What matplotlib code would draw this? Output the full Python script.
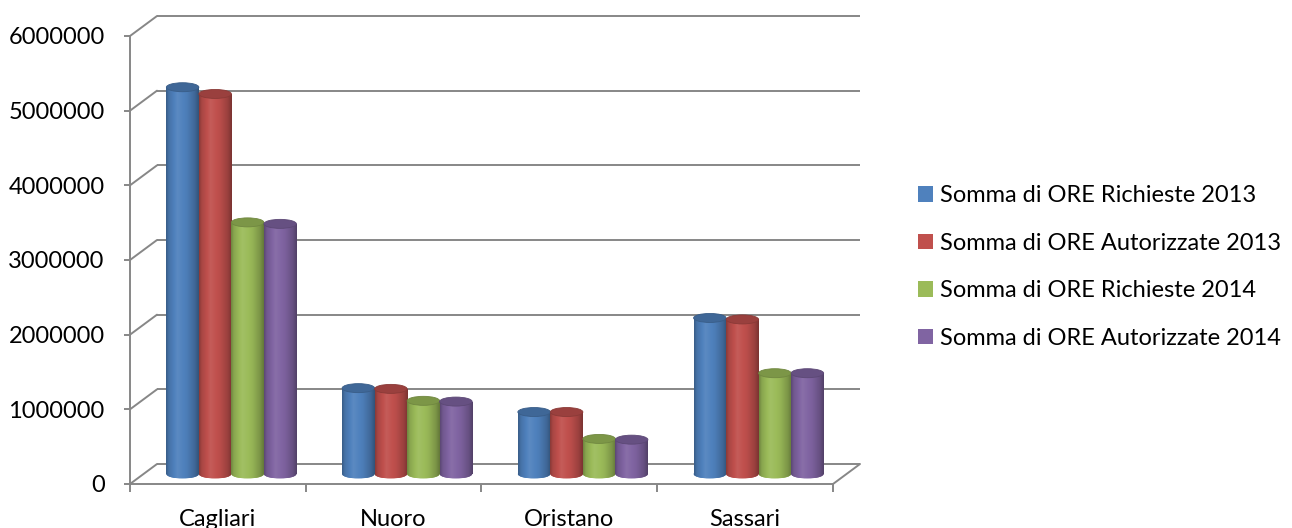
import numpy as np
import matplotlib
matplotlib.use("Agg")
import matplotlib.pyplot as plt
import matplotlib.colors as mcolors
from matplotlib.patches import Ellipse, Patch, ConnectionPatch
from matplotlib.transforms import offset_copy

# ---- data -------------------------------------------------------------
categories = ["Cagliari", "Nuoro", "Oristano", "Sassari"]
series_names = [
    "Somma di ORE Richieste 2013",
    "Somma di ORE Autorizzate 2013",
    "Somma di ORE Richieste 2014",
    "Somma di ORE Autorizzate 2014",
]
richieste_2013 = [5180000, 1150000, 830000, 2090000]
autorizzate_2013 = [5090000, 1140000, 830000, 2070000]
richieste_2014 = [3370000, 980000, 470000, 1350000]
autorizzate_2014 = [3350000, 970000, 460000, 1350000]
y_ticks = [0, 1000000, 2000000, 3000000, 4000000, 5000000, 6000000]
y_tick_labels = [str(v) for v in y_ticks]

series_values = [richieste_2013, autorizzate_2013, richieste_2014, autorizzate_2014]
series_colors = ["#4F81BD", "#C0504D", "#9BBB59", "#8064A2"]

plt.rcParams["font.family"] = ["Lato", "DejaVu Sans"]
FS = 17

W, H = 1292, 528
fig = plt.figure(figsize=(W / 100, H / 100), dpi=100)
ax = fig.add_axes([130 / W, 44 / H, 703 / W, 448 / H])
ax.set_xlim(0, len(categories))
ax.set_ylim(0, 6000000)

grid_col = "#878787"
grid_lw = 1.4

# back wall and mid-depth planes of the pseudo-3D box
depth_dx, depth_dy = 27, 20
back = offset_copy(ax.transData, fig=fig, x=depth_dx, y=depth_dy, units="dots")
mid = offset_copy(ax.transData, fig=fig, x=depth_dx / 2, y=depth_dy / 2, units="dots")

for v in y_ticks:
    ax.plot([0, len(categories)], [v, v], transform=back, color=grid_col,
            lw=grid_lw, clip_on=False, zorder=1, solid_capstyle="butt")
    con = ConnectionPatch(xyA=(0, v), coordsA=ax.transData, xyB=(0, v), coordsB=back,
                          arrowstyle="-", color=grid_col, lw=grid_lw,
                          shrinkA=0, shrinkB=0, zorder=1)
    fig.add_artist(con)

# right edge of the floor
con = ConnectionPatch(xyA=(len(categories), 0), coordsA=ax.transData,
                      xyB=(len(categories), 0), coordsB=back,
                      arrowstyle="-", color=grid_col, lw=grid_lw,
                      shrinkA=0, shrinkB=0, zorder=1)
fig.add_artist(con)

for side in ["top", "right"]:
    ax.spines[side].set_visible(False)
for side in ["left", "bottom"]:
    ax.spines[side].set_color(grid_col)
    ax.spines[side].set_linewidth(grid_lw)
ax.patch.set_alpha(0)

# ---- cylinders ---------------------------------------------------------
n_series = len(series_values)
bar_w = 0.185
px_per_val = 448 / 6000000
cap_h = 9 / px_per_val  # ellipse height in data units


def shade(color, f):
    c = np.array(mcolors.to_rgb(color))
    if f <= 1:
        return c * f
    return c + (1 - c) * (f - 1)


prof_t = [0.0, 0.08, 0.35, 0.65, 0.88, 1.0]
prof_f = [0.72, 0.88, 1.07, 0.96, 0.80, 0.64]
tt = np.linspace(0, 1, 64)
ff = np.interp(tt, prof_t, prof_f)

for k, (vals, col) in enumerate(zip(series_values, series_colors)):
    xs = np.arange(len(categories)) + 0.5 + (k - (n_series - 1) / 2) * bar_w
    bars = ax.bar(xs, vals, width=bar_w, color=col, transform=mid,
                  zorder=3, linewidth=0, clip_on=False)
    grad = np.array([[shade(col, f) for f in ff]])
    for x, v, rect in zip(xs, vals, bars):
        x0, x1 = x - bar_w / 2, x + bar_w / 2
        # bottom rounded edge
        bot = Ellipse((x, 0), bar_w, cap_h, transform=mid, facecolor=col,
                      edgecolor="none", zorder=2.9, clip_on=False)
        ax.add_patch(bot)
        imb = ax.imshow(grad, extent=(x0, x1, -cap_h / 2, cap_h / 2), transform=mid,
                        aspect="auto", interpolation="bilinear", zorder=2.95)
        imb.set_clip_path(bot)
        # shaded body
        im = ax.imshow(grad, extent=(x0, x1, 0, v), transform=mid,
                       aspect="auto", interpolation="bilinear", zorder=3.1)
        im.set_clip_path(rect)
        # top cap
        top = Ellipse((x, v), bar_w, cap_h, transform=mid,
                      facecolor=shade(col, 0.80), edgecolor=shade(col, 0.72),
                      linewidth=0.6, zorder=3.5, clip_on=False)
        ax.add_patch(top)

ax.set_xlim(0, len(categories))
ax.set_ylim(0, 6000000)

# ---- axes ticks --------------------------------------------------------
ax.set_yticks(y_ticks)
ax.set_yticklabels(y_tick_labels)
ax.tick_params(axis="y", direction="out", length=4.3, width=grid_lw, color=grid_col,
               pad=14, labelsize=FS, labelcolor="black")

ax.set_xticks(np.arange(len(categories) + 1))
ax.set_xticklabels([])
ax.tick_params(axis="x", which="major", direction="out", length=5.8, width=grid_lw,
               color=grid_col)
ax.set_xticks(np.arange(len(categories)) + 0.5, minor=True)
ax.set_xticklabels(categories, minor=True)
ax.tick_params(axis="x", which="minor", length=0, pad=18, labelsize=FS,
               labelcolor="black")

# ---- legend ------------------------------------------------------------
handles = [Patch(facecolor=c, edgecolor="none") for c in series_colors]
fig.legend(handles, series_names, loc="center left",
           bbox_to_anchor=(918 / W, 1 - 267 / H), frameon=False,
           fontsize=FS, handlelength=0.62, handleheight=0.62,
           handletextpad=0.32, labelspacing=1.12, borderpad=0, borderaxespad=0)

fig.savefig("out.png", dpi=100)
